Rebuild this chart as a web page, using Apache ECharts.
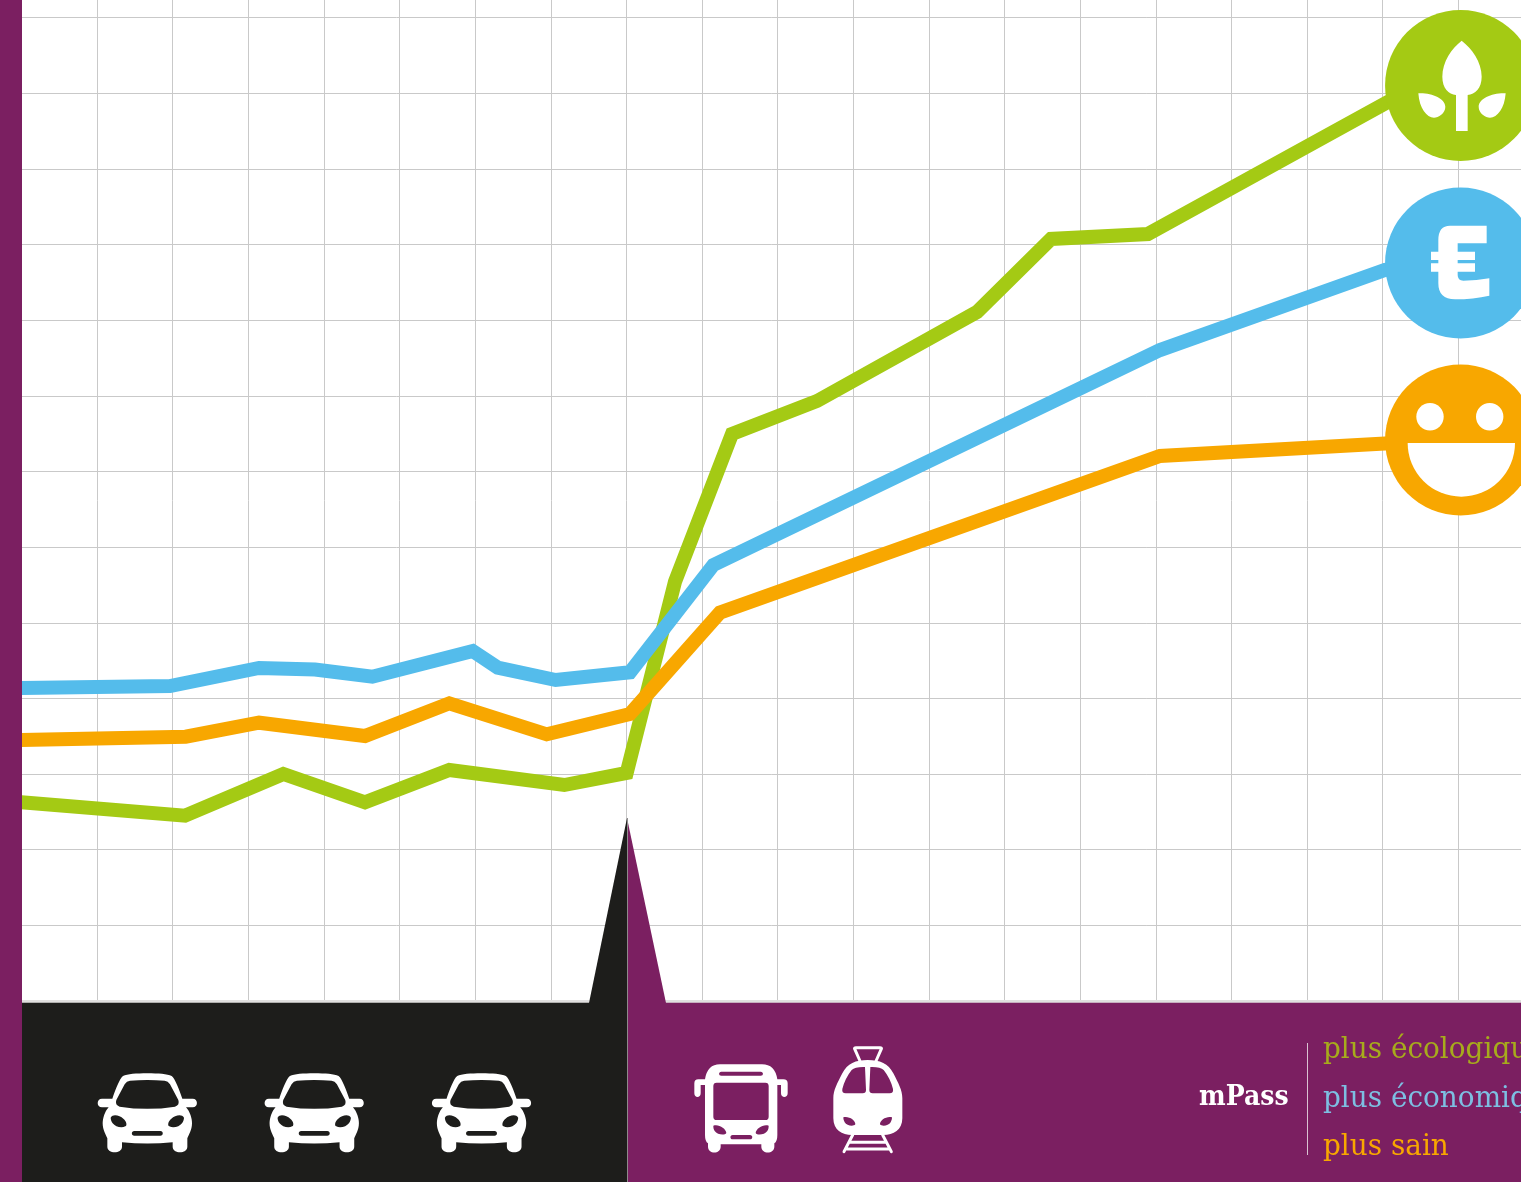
<!DOCTYPE html>
<html>
<head>
<meta charset="utf-8">
<title>mPass</title>
<style>
  html, body { margin: 0; padding: 0; background: #fff; overflow: hidden; }
  #chart { width: 1521px; height: 1182px; }
</style>
<script src="https://cdn.jsdelivr.net/npm/echarts@6/dist/echarts.min.js"></script>
</head>
<body>
<div id="chart"></div>
<script>
  // values, one unit = one grid square
  var seriesNames = ['plus écologique', 'plus économique', 'plus sain'];

  var greenX = [0, 2.163, 3.463, 4.543, 5.658, 7.178, 8.003, 8.642, 9.396, 10.52, 12.635, 13.614, 14.896, 18.07, 19.029];
  var greenY = [2.627, 2.449, 3.001, 2.627, 3.054, 2.855, 3.014, 5.543, 7.495, 7.931, 9.108, 10.073, 10.139, 11.884, 12.102];

  var blueX = [0, 1.965, 3.142, 3.882, 4.64, 5.967, 6.298, 7.065, 8.047, 9.149, 15.055, 18.03, 19.029];
  var blueY = [4.137, 4.164, 4.402, 4.382, 4.287, 4.627, 4.406, 4.243, 4.345, 5.763, 8.605, 9.663, 9.755];

  var orangeX = [0, 2.172, 3.142, 4.543, 5.658, 6.946, 8.047, 9.237, 15.055, 18.03, 19.029];
  var orangeY = [3.45, 3.494, 3.679, 3.503, 3.935, 3.525, 3.794, 5.135, 7.204, 7.369, 7.416];

  var GREEN = '#a4ca14';
  var BLUE = '#54bceb';
  var ORANGE = '#f8a700';
  var PURPLE = '#7b1f61';
  var DARK = '#1d1d1b';

  // the last point of each line carries the round badge
  function makeSeries(name, xs, ys, color) {
    var data = xs.map(function (x, i) {
      var item = { value: [x, ys[i]] };
      if (i === xs.length - 1) {
        item.symbol = 'circle';
        item.symbolSize = 151;
      }
      return item;
    });
    return {
      name: name,
      type: 'line',
      symbol: 'none',
      showSymbol: true,
      showAllSymbol: true,
      silent: true,
      clip: false,
      data: data,
      itemStyle: { color: color },
      lineStyle: { color: color, width: 14, join: 'miter', miterLimit: 10, cap: 'butt' }
    };
  }

  // icons are written in the coordinates of a 3x crop, hence the scale
  function icon(pathData, x, y, fill) {
    return {
      type: 'path',
      x: x, y: y, scaleX: 1 / 3, scaleY: 1 / 3,
      shape: { pathData: pathData },
      style: { fill: fill }
    };
  }
  function strokeIcon(pathData, x, y) {
    return {
      type: 'path',
      x: x, y: y, scaleX: 1 / 3, scaleY: 1 / 3,
      shape: { pathData: pathData },
      style: { fill: 'none', stroke: '#fff', lineWidth: 9, lineCap: 'round' }
    };
  }
  function box(x, y, w, h, fill, z) {
    return { type: 'rect', z: z || 10, silent: true, shape: { x: x, y: y, width: w, height: h }, style: { fill: fill } };
  }
  function label(text, x, y, fill, size, squeeze, weight) {
    return {
      type: 'text', z: 20, silent: true, x: x, y: y, scaleX: squeeze,
      style: {
        text: text, fill: fill, fontFamily: '"DejaVu Serif"', fontSize: size,
        fontWeight: weight || 'normal', verticalAlign: 'middle', align: 'left'
      }
    };
  }

  var carBody = 'M202 70 C235 70 262 72 275 78 C285 85 298 120 307 146 L338 146 C355 146 355 172 338 172 L318 172 C330 185 336 205 336 220 C336 240 326 255 322 265 L322 290 C322 312 278 312 278 290 L278 277 Q202 284 126 277 L126 290 C126 312 82 312 82 290 L82 265 C78 255 68 240 68 220 C68 205 74 185 86 172 L66 172 C49 172 49 146 66 146 L97 146 C106 120 119 85 129 78 C142 72 169 70 202 70Z';
  var carHoles = 'M150 92 Q202 88 254 92 Q264 93 270 103 L295 150 Q300 165 285 170 Q202 183 119 170 Q104 165 109 150 L134 103 Q140 93 150 92Z ' +
    'M92 203 C100 190 120 198 130 206 C140 214 142 226 136 229 C125 236 105 230 98 220 C94 214 92 208 92 203Z ' +
    'M312 203 C304 190 284 198 274 206 C264 214 262 226 268 229 C279 236 299 230 306 220 C310 214 312 208 312 203Z ' +
    'M163 243 L241 243 C251 243 251 257 241 257 L163 257 C153 257 153 243 163 243Z';

  var busBody = 'M120 88 L246 88 Q285 88 292 133 L310 133 Q323 133 323 145 L323 175 C323 190 303 190 303 175 L303 150 L292 150 L292 300 Q292 320 283 325 L283 335 C283 358 244 358 244 335 L244 328 L122 328 L122 335 C122 358 84 358 84 335 L84 325 Q75 320 75 300 L75 150 L62 150 L62 175 C62 190 43 190 43 175 L43 145 Q43 133 55 133 L75 133 Q82 88 120 88Z';
  var busHoles = 'M110 143 L256 143 Q266 143 266 153 L266 245 Q266 255 256 255 L110 255 Q100 255 100 245 L100 153 Q100 143 110 143Z ' +
    'M124 110 L242 110 C251 110 251 122 242 122 L124 122 C115 122 115 110 124 110Z ' +
    'M100 272 C115 266 138 280 139 294 C135 302 112 300 104 288 C100 282 100 276 100 272Z ' +
    'M266 272 C251 266 228 280 227 294 C231 302 254 300 262 288 C266 282 266 276 266 272Z ' +
    'M158 300 L210 300 C219 300 219 313 210 313 L158 313 C149 313 149 300 158 300Z';

  var tramBody = 'M563 75 C600 75 625 85 640 115 C655 145 667 165 667 190 L667 250 C667 285 640 300 610 300 L516 300 C486 300 460 285 460 250 L460 190 C460 165 472 145 487 115 C502 85 527 75 563 75Z';
  var tramHoles = 'M555 96 L558 165 Q558 175 548 175 L497 175 Q485 175 487 162 Q495 130 515 105 Q525 95 555 96Z ' +
    'M571 96 L568 165 Q568 175 578 175 L629 175 Q641 175 639 162 Q631 130 611 105 Q601 95 571 96Z ' +
    'M490 247 C505 242 527 255 526 268 C520 276 500 272 494 262 C491 256 490 252 490 247Z ' +
    'M636 247 C621 242 599 255 600 268 C606 276 626 272 632 262 C635 256 636 252 636 247Z';
  var tramLines = 'M540 78 L524 42 Q522 38 528 38 L600 38 Q606 38 604 42 L588 78 M518 300 L492 350 M608 300 L634 350 M510 322 L616 322 M502 342 L624 342';

  var leaf = 'M275 122 C305 145 335 185 335 230 C335 265 315 282 293 285 L293 393 L258 393 L258 285 C236 282 217 265 217 230 C217 185 245 145 275 122Z ' +
    'M145 280 C185 278 225 295 226 320 C226 340 205 353 192 353 C170 353 148 325 145 280Z ' +
    'M407 280 C367 278 327 295 326 320 C326 340 347 353 360 353 C382 353 404 325 407 280Z';
  var euro = 'M350 137 L240 137 Q205 137 205 180 L205 215 L183 215 L183 240 L205 240 L205 250 L183 250 L183 275 L205 275 L205 310 Q205 358 255 358 Q310 358 358 347 L358 295 Q320 302 280 302 Q263 302 263 285 L263 275 L315 275 L315 250 L263 250 L263 240 L315 240 L315 215 L263 215 L263 190 L350 190Z';
  var smile = 'M113 789 L435 789 A161 161 0 0 1 113 789Z';

  var icons = [
    icon(carBody, 80, 1050, '#fff'), icon(carHoles, 80, 1050, DARK),
    icon(carBody, 246.9, 1050, '#fff'), icon(carHoles, 246.9, 1050, DARK),
    icon(carBody, 414.2, 1050, '#fff'), icon(carHoles, 414.2, 1050, DARK),
    icon(busBody, 680, 1035, '#fff'), icon(busHoles, 680, 1035, PURPLE),
    icon(tramBody, 680, 1035, '#fff'), icon(tramHoles, 680, 1035, PURPLE),
    strokeIcon(tramLines, 680, 1035),
    icon(leaf, 1370, 0, '#fff'),
    icon(euro, 1370, 180, '#fff'),
    { type: 'circle', shape: { cx: 1430, cy: 416.7, r: 13.7 }, style: { fill: '#fff' } },
    { type: 'circle', shape: { cx: 1489.7, cy: 416.7, r: 13.7 }, style: { fill: '#fff' } },
    icon(smile, 1370, 180, '#fff')
  ];

  var decor = [
    box(0, 0, 22, 1182, PURPLE),
    box(22, 1000, 1499, 3, '#e0dfdf', 5),
    box(22, 1002.7, 605, 180, DARK),
    box(627, 1002.7, 894, 180, PURPLE),
    { type: 'polygon', z: 10, silent: true, shape: { points: [[589, 1003], [627, 818], [627, 1003]] }, style: { fill: DARK } },
    { type: 'polygon', z: 10, silent: true, shape: { points: [[627, 818], [666, 1003], [627, 1003]] }, style: { fill: PURPLE } },
    box(627, 818, 1, 364, '#8e8a8c', 11),
    box(1307, 1043, 1, 112, '#d9c3d2', 20),
    label('mPass', 1199, 1098, '#fff', 28, 0.9, 'bold'),
    label(seriesNames[0], 1323, 1050, '#a7ab1c', 30, 0.93),
    label(seriesNames[1], 1323, 1099, '#7dbfe2', 30, 0.93),
    label(seriesNames[2], 1323, 1147, '#f8a700', 30, 0.93)
  ];

  var chart = echarts.init(document.getElementById('chart'));
  chart.setOption({
    animation: false,
    backgroundColor: '#fff',
    grid: { left: 21.4, top: 0, width: 1499.6, height: 1001 },
    xAxis: {
      type: 'value', min: 0, max: 19.828, interval: 1,
      axisLine: { show: false }, axisTick: { show: false }, axisLabel: { show: false },
      splitLine: { showMaxLine: false, lineStyle: { color: '#c9c9c9', width: 1 } }
    },
    yAxis: {
      type: 'value', min: 0, max: 13.232, interval: 1,
      axisLine: { show: false }, axisTick: { show: false }, axisLabel: { show: false },
      splitLine: { showMaxLine: false, lineStyle: { color: '#c9c9c9', width: 1 } }
    },
    series: [
      makeSeries(seriesNames[0], greenX, greenY, GREEN),
      makeSeries(seriesNames[2], orangeX, orangeY, ORANGE),
      makeSeries(seriesNames[1], blueX, blueY, BLUE),
      {
        type: 'custom',
        coordinateSystem: 'none',
        silent: true,
        z: 30,
        data: [0],
        renderItem: function () {
          return { type: 'group', children: icons };
        }
      }
    ],
    graphic: { elements: decor }
  });
</script>
</body>
</html>
